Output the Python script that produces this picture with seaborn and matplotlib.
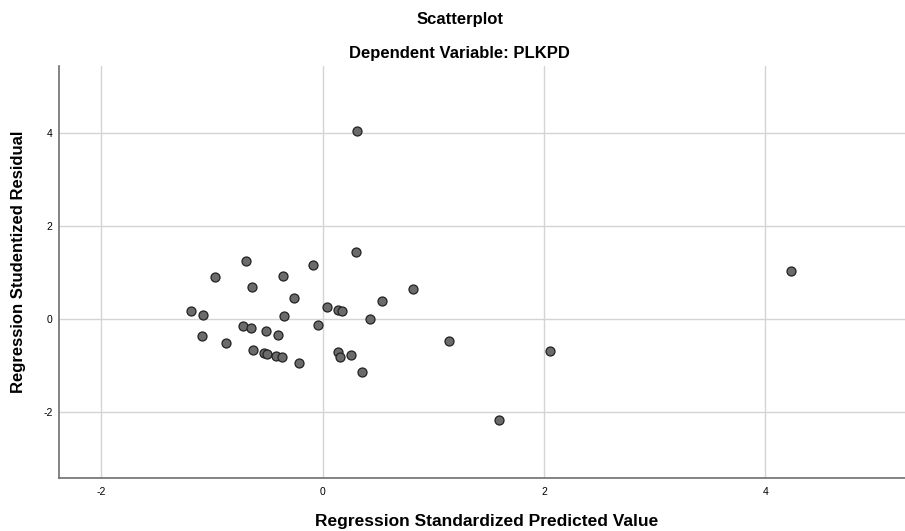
import pandas as pd
import seaborn as sns
import matplotlib.pyplot as plt

pred_values = [0.30, -0.69, -0.97, -0.36, -0.09, -0.64, 0.82, 0.54, -0.26, -1.19,
               -1.08, -0.35, 0.04, 0.14, 0.18, 0.43, -0.04, -0.72, -0.65, -0.51,
               -0.40, -1.09, -0.87, -0.63, -0.53, -0.50, -0.42, -0.37, -0.21, 0.14,
               0.16, 0.26, 0.36, 1.14, 2.05, 1.59, 4.23, 0.31]
resid_values = [1.44, 1.24, 0.91, 0.93, 1.17, 0.68, 0.64, 0.39, 0.45, 0.16,
                0.08, 0.06, 0.25, 0.19, 0.17, 0.00, -0.14, -0.15, -0.19, -0.27,
                -0.35, -0.38, -0.52, -0.67, -0.74, -0.75, -0.80, -0.83, -0.95, -0.72,
                -0.83, -0.78, -1.14, -0.48, -0.69, -2.19, 1.03, 4.05]
x_ticks = [-2, 0, 2, 4]
y_ticks = [-2, 0, 2, 4]

df = pd.DataFrame({"pred": pred_values, "resid": resid_values})

sns.set_theme(style="white")
plt.rcParams["font.family"] = ["Liberation Sans", "DejaVu Sans"]
plt.rcParams["axes.unicode_minus"] = False

fig = plt.figure(figsize=(9.05, 5.31), dpi=100)
ax = fig.add_axes([0.0652, 0.0998, 0.9348, 0.7759])

sns.scatterplot(data=df, x="pred", y="resid", ax=ax, color="#6b6b6b",
                edgecolor="#222222", linewidth=0.9, s=42, zorder=3)

ax.set_xlim(-2.38, 5.26)
ax.set_ylim(-3.43, 5.45)
ax.set_xticks(x_ticks)
ax.set_yticks(y_ticks)
ax.grid(True, color="#d4d4d4", linewidth=1.0)
ax.set_axisbelow(True)
ax.tick_params(axis="x", labelsize=7.5, length=0, pad=6.5, colors="black")
ax.tick_params(axis="y", labelsize=7.5, length=0, pad=4.5, colors="black")

for side in ["top", "right"]:
    ax.spines[side].set_visible(False)
for side in ["left", "bottom"]:
    ax.spines[side].set_color("#6e6e6e")
    ax.spines[side].set_linewidth(1.2)

ax.set_xlabel("")
ax.set_ylabel("")
fig.text(0.538, 1 - 526 / 531, "Regression Standardized Predicted Value", ha="center", va="baseline",
         fontsize=12.5, fontweight="bold", color="black")
fig.text(19 / 905, 1 - 262 / 531, "Regression Studentized Residual", ha="center", va="center",
         rotation=90, fontsize=12, fontweight="bold", color="black")

fig.text(0.508, 1 - 24 / 531, "Scatterplot", ha="center", va="baseline",
         fontsize=12, fontweight="bold", color="black")
fig.text(0.508, 1 - 58 / 531, "Dependent Variable: PLKPD", ha="center", va="baseline",
         fontsize=12, fontweight="bold", color="black")

plt.savefig("out.png", dpi=100)
